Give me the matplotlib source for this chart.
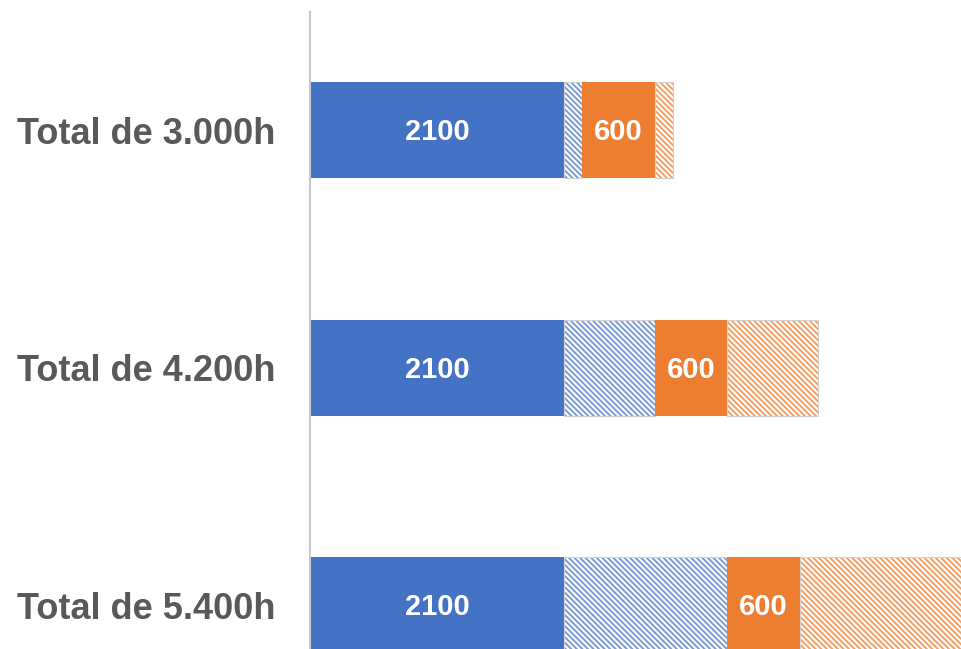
import matplotlib.pyplot as plt
import numpy as np

plt.rcParams['font.family'] = ['Liberation Sans', 'DejaVu Sans']
plt.rcParams['hatch.linewidth'] = 1.4

categories = ['Total de 3.000h', 'Total de 4.200h', 'Total de 5.400h']
blue_solid = [2100, 2100, 2100]
blue_hatch = [150, 750, 1350]
orange_solid = [600, 600, 600]
orange_hatch = [150, 750, 1350]

blue = '#4472C4'
orange = '#ED7D31'
blue_light = '#7C9BD6'
orange_light = '#F2A066'

fig = plt.figure(figsize=(9.61, 6.49), dpi=100)
ax = fig.add_axes([310 / 961, 0, 653 / 961, 637 / 649])

y = np.arange(len(categories))
h = 0.404

left = np.zeros(len(categories))
ax.barh(y, blue_solid, left=left, height=h, color=blue, linewidth=0)
for yi, l, v in zip(y, left, blue_solid):
    ax.text(l + v / 2, yi + 0.01, str(v), ha='center', va='center',
            color='white', fontsize=21, fontweight='bold')
left += blue_solid

ax.barh(y, blue_hatch, left=left, height=h, color='white',
        edgecolor=blue_light, hatch='\\' * 6, linewidth=0)
ax.barh(y, blue_hatch, left=left, height=h, fill=False,
        edgecolor='#d0d0d0', linewidth=0.8)
left += blue_hatch

ax.barh(y, orange_solid, left=left, height=h, color=orange, linewidth=0)
for yi, l, v in zip(y, left, orange_solid):
    ax.text(l + v / 2, yi + 0.01, str(v), ha='center', va='center',
            color='white', fontsize=21, fontweight='bold')
left += orange_solid

ax.barh(y, orange_hatch, left=left, height=h, color='white',
        edgecolor=orange_light, hatch='\\' * 6, linewidth=0)
ax.barh(y, orange_hatch, left=left, height=h, fill=False,
        edgecolor='#d0d0d0', linewidth=0.8)

ax.set_xlim(0, 5400)
ax.set_ylim(2.185, -0.497)
ax.set_yticks(y)
ax.set_yticklabels(categories, fontsize=26, fontweight='bold', color='#595959')
ax.tick_params(axis='y', length=0, pad=25)
ax.set_xticks([])
for s in ['top', 'right', 'bottom']:
    ax.spines[s].set_visible(False)
ax.spines['left'].set_color('#c8c8c8')
ax.spines['left'].set_linewidth(1.5)

fig.savefig('out.png', dpi=100)
